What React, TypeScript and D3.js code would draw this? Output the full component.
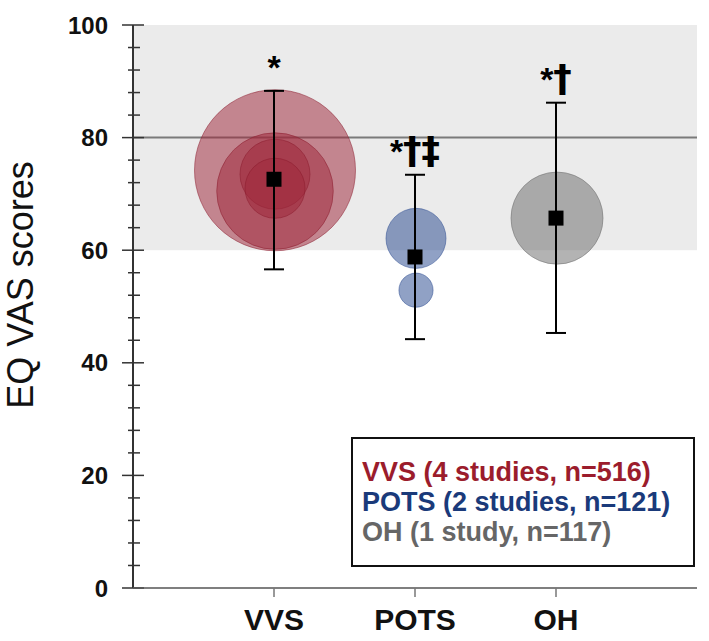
import React from "react";
import * as d3 from "d3";

const categories = ["VVS", "POTS", "OH"];
const means = [72.6, 58.8, 65.7];
const upper = [88.3, 73.4, 86.2];
const lower = [56.6, 44.2, 45.3];
const significance = ["*", "*†‡", "*†"];

const vvsStudyMeans = [74.2, 70.5, 73.5, 71.0];
const vvsWeights = [100, 52.4, 18.9, 13.9];
const potsStudyMeans = [62.1, 52.9];
const potsWeights = [13.9, 4.5];
const ohStudyMeans = [65.7];
const ohWeights = [32.7];

const yTicks = [0, 20, 40, 60, 80, 100];
const legendLabels = [
  "VVS (4 studies, n=516)",
  "POTS (2 studies, n=121)",
  "OH (1 study, n=117)",
];
const referenceBand = [60, 100];
const referenceLine = 80;

const W = 709;
const H = 641;
const FONT = "'Liberation Sans', Arial, Helvetica, sans-serif";
const SYMFONT = "'DejaVu Sans', 'Liberation Sans', sans-serif";

const fills = ["#a0283c", "#2a4a90", "#6e6e6e"];
const strokes = ["#8a1a2c", "#2a4a90", "#6a6a6a"];
const textColors = ["#9b1c2c", "#1a3a7a", "#666666"];

export default function App() {
  const left = 133;
  const right = 697;
  const top = 25;
  const bottom = 588;

  const x = d3.scalePoint<string>().domain(categories).range([left, right]).padding(1);
  const y = d3.scaleLinear().domain([0, 100]).range([bottom, top]);
  const r = d3.scaleSqrt().domain([0, 100]).range([0, 80.5]);

  const minorTicks = d3.range(0, 101, 4).filter((v) => v % 20 !== 0);

  const studies = [
    { means: vvsStudyMeans, weights: vvsWeights },
    { means: potsStudyMeans, weights: potsWeights },
    { means: ohStudyMeans, weights: ohWeights },
  ];

  return (
    <svg
      width={W}
      height={H}
      style={{ position: "absolute", left: 0, top: 0, display: "block", background: "#fff" }}
      fontFamily={FONT}
    >
      {/* reference band */}
      <rect
        x={left + 1}
        y={y(referenceBand[1])}
        width={right - left - 1}
        height={y(referenceBand[0]) - y(referenceBand[1])}
        fill="#ebebeb"
      />
      <line x1={left} x2={right} y1={y(referenceLine)} y2={y(referenceLine)} stroke="#7a7a7a" strokeWidth={2} />

      {/* study circles */}
      {studies.map((s, ci) =>
        s.means.map((m, i) => (
          <circle
            key={`c${ci}-${i}`}
            cx={x(categories[ci])! + 1}
            cy={y(m)}
            r={r(s.weights[i])}
            fill={fills[ci]}
            fillOpacity={0.52}
            stroke={strokes[ci]}
            strokeOpacity={0.5}
            strokeWidth={1}
          />
        ))
      )}

      {/* error bars & means */}
      {categories.map((c, i) => {
        const cx = x(c)!;
        const chars = Array.from(significance[i]);
        return (
          <g key={c}>
            <line x1={cx} x2={cx} y1={y(upper[i])} y2={y(lower[i])} stroke="#000" strokeWidth={2} />
            <line x1={cx - 10} x2={cx + 10} y1={y(upper[i])} y2={y(upper[i])} stroke="#000" strokeWidth={2} />
            <line x1={cx - 10} x2={cx + 10} y1={y(lower[i])} y2={y(lower[i])} stroke="#000" strokeWidth={2} />
            <rect x={cx - 7.5} y={y(means[i]) - 7.5} width={15} height={15} fill="#000" />
            <text
              x={cx}
              y={y(upper[i]) - 12}
              textAnchor="middle"
              fontWeight="bold"
              fill="#000"
            >
              {chars.map((ch, k) =>
                ch === "*" ? (
                  <tspan key={k} fontSize={34} fontFamily={FONT}>
                    {ch}
                  </tspan>
                ) : (
                  <tspan key={k} fontSize={37} fontFamily={SYMFONT}>
                    {ch}
                  </tspan>
                )
              )}
            </text>
          </g>
        );
      })}

      {/* y axis */}
      <line x1={left} x2={left} y1={top} y2={bottom} stroke="#333" strokeWidth={2} />
      {yTicks.map((t) => (
        <g key={`yt${t}`}>
          <line x1={122} x2={144} y1={y(t)} y2={y(t)} stroke="#333" strokeWidth={1.5} />
          <text x={108} y={y(t) + 8.5} textAnchor="end" fontSize={24} fontWeight="bold" fill="#111">
            {t}
          </text>
        </g>
      ))}
      {minorTicks.map((t) => (
        <line key={`mt${t}`} x1={128} x2={140} y1={y(t)} y2={y(t)} stroke="#333" strokeWidth={1.5} />
      ))}

      {/* x axis */}
      <line x1={left} x2={right} y1={bottom} y2={bottom} stroke="#555" strokeWidth={1.5} />
      {categories.map((c) => (
        <g key={`xt${c}`}>
          <line x1={x(c)!} x2={x(c)!} y1={bottom} y2={bottom + 9} stroke="#777" strokeWidth={1.5} />
          <text x={x(c)!} y={630} textAnchor="middle" fontSize={30} fontWeight="bold" fill="#111">
            {c}
          </text>
        </g>
      ))}

      {/* y label */}
      <text
        transform={`translate(33, 285) rotate(-90)`}
        textAnchor="middle"
        fontSize={36}
        fill="#111"
      >
        EQ VAS scores
      </text>

      {/* legend */}
      <rect x={352} y={438} width={342} height={128} fill="#fff" stroke="#111" strokeWidth={2} />
      {legendLabels.map((l, i) => (
        <text key={l} x={362} y={481 + i * 30} fontSize={27} fontWeight="bold" fill={textColors[i]}>
          {l}
        </text>
      ))}
    </svg>
  );
}
